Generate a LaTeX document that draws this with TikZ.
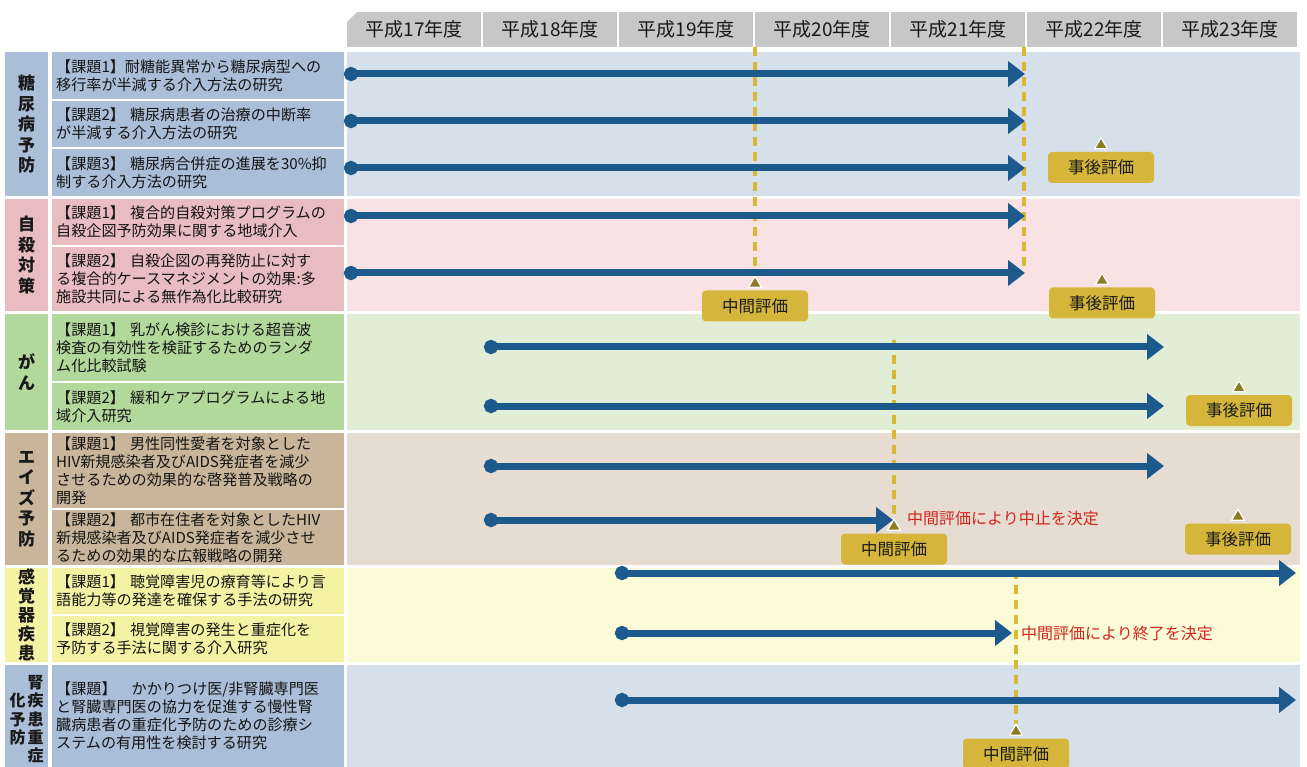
\documentclass[tikz,border=0pt]{standalone}
\usepackage{fontspec}
\setmainfont{Noto Sans CJK JP}
\usetikzlibrary{arrows.meta,calc}
\definecolor{hdrgray}{HTML}{C6C7C6}
\definecolor{blueL}{HTML}{AABED7}
\definecolor{blueT}{HTML}{D5E0EB}
\definecolor{pinkL}{HTML}{E8BCC0}
\definecolor{pinkT}{HTML}{F8E2E4}
\definecolor{greenL}{HTML}{B3D89B}
\definecolor{greenT}{HTML}{E1EED5}
\definecolor{tanL}{HTML}{C9B59B}
\definecolor{tanT}{HTML}{E6DCD2}
\definecolor{yelL}{HTML}{F6F2A4}
\definecolor{yelT}{HTML}{FCFBD8}
\definecolor{arrblue}{HTML}{1C5A8E}
\definecolor{dashyel}{HTML}{D8B834}
\definecolor{labgold}{HTML}{D5B63A}
\definecolor{trigold}{HTML}{8B7B22}
\definecolor{redtxt}{HTML}{D0261E}
\begin{document}
\begin{tikzpicture}[x=1pt,y=-1pt,
  hdrcell/.style={fill=hdrgray, minimum width=134pt, minimum height=35pt, inner sep=0pt, font=\fontsize{19}{22}\selectfont, text=black!90},
  catcell/.style={anchor=north west, minimum width=43pt, inner sep=0pt, align=center, font=\bfseries\fontsize{17}{20.5}\selectfont, text=black!90},
  taskcell/.style={anchor=north west, text width=284pt, inner xsep=4pt, inner ysep=0pt, align=left, font=\fontsize{15.1}{18}\selectfont, text=black!92},
  prog/.style={draw=arrblue, line width=7pt, {Circle[length=14pt]}-{Triangle[length=17pt,width=25pt]}},
  yldash/.style={draw=dashyel, line width=3.5pt, dash pattern=on 9pt off 6pt},
  evalbox/.style={fill=labgold, rounded corners=4pt, minimum width=106pt, minimum height=31pt, inner sep=0pt, font=\fontsize{16.5}{18}\selectfont, text=black!90},
  tri/.style={fill=trigold, draw=white, line width=1.2pt, line join=miter},
  redlabel/.style={text=redtxt, anchor=west, inner sep=0pt, font=\fontsize{16}{18}\selectfont},
]
\useasboundingbox (0,0) rectangle (1307,767);
\fill[white] (0,0) rectangle (1307,767);

% header
\node[hdrcell] (h17) at (414,29.5) {平成17年度};
\node[hdrcell] (h18) at (550,29.5) {平成18年度};
\node[hdrcell] (h19) at (686,29.5) {平成19年度};
\node[hdrcell] (h20) at (822,29.5) {平成20年度};
\node[hdrcell] (h21) at (958,29.5) {平成21年度};
\node[hdrcell] (h22) at (1094,29.5) {平成22年度};
\node[hdrcell] (h23) at (1230,29.5) {平成23年度};
\fill[white] (346,11) -- (358,11) -- (346,23) -- cycle;

% timeline backgrounds
\fill[blueT]  (347,52)  rectangle (1300,196);
\fill[pinkT]  (347,199) rectangle (1300,311);
\fill[greenT] (347,314) rectangle (1300,430);
\fill[tanT]   (347,433) rectangle (1300,565);
\fill[yelT]   (347,568) rectangle (1300,662);
\fill[blueT]  (347,665) rectangle (1300,767);

% categories
\node[catcell, fill=blueL, minimum height=144pt] (c1) at (5,52) {糖\\尿\\病\\予\\防};
\node[catcell, fill=pinkL, minimum height=112pt] (c2) at (5,199) {自\\殺\\対\\策};
\node[catcell, fill=greenL, minimum height=116pt] (c3) at (5,314) {が\\ん};
\node[catcell, fill=tanL, minimum height=132pt] (c4) at (5,433) {エ\\イ\\ズ\\予\\防};
\node[catcell, fill=yelL, minimum height=94pt, font=\bfseries\fontsize{17}{19}\selectfont] (c5) at (5,568) {感\\覚\\器\\疾\\患};
\node[catcell, fill=blueL, minimum height=102pt] (c6) at (5,665) {};
\node[inner sep=0pt, font=\bfseries\fontsize{16}{17.5}\selectfont, text=black!90] (c6t) at (26.5,721) {\def\arraystretch{0.88}\begin{tabular}{@{}c@{\hspace{2pt}}c@{}} & 腎\\ 化 & 疾\\ 予 & 患\\ 防 & 重\\ & 症\end{tabular}};

% tasks
\node[taskcell, fill=blueL, minimum height=47pt] (k11) at (52,52) {【課題1】耐糖能異常から糖尿病型への\\移行率が半減する介入方法の研究};
\node[taskcell, fill=blueL, minimum height=46pt] (k12) at (52,101) {【課題2】 糖尿病患者の治療の中断率\\が半減する介入方法の研究};
\node[taskcell, fill=blueL, minimum height=47pt] (k13) at (52,149) {【課題3】 糖尿病合併症の進展を30\%抑\\制する介入方法の研究};
\node[taskcell, fill=pinkL, minimum height=46pt] (k21) at (52,199) {【課題1】 複合的自殺対策プログラムの\\自殺企図予防効果に関する地域介入};
\node[taskcell, fill=pinkL, minimum height=64pt] (k22) at (52,247) {【課題2】 自殺企図の再発防止に対す\\る複合的ケースマネジメントの効果:多\\施設共同による無作為化比較研究};
\node[taskcell, fill=greenL, minimum height=67pt] (k31) at (52,314) {【課題1】 乳がん検診における超音波\\検査の有効性を検証するためのランダ\\ム化比較試験};
\node[taskcell, fill=greenL, minimum height=47pt] (k32) at (52,383) {【課題2】 緩和ケアプログラムによる地\\域介入研究};
\node[taskcell, fill=tanL, minimum height=75pt] (k41) at (52,433) {【課題1】 男性同性愛者を対象とした\\HIV新規感染者及びAIDS発症者を減少\\させるための効果的な啓発普及戦略の\\開発};
\node[taskcell, fill=tanL, minimum height=55pt] (k42) at (52,510) {【課題2】 都市在住者を対象としたHIV\\新規感染者及びAIDS発症者を減少させ\\るための効果的な広報戦略の開発};
\node[taskcell, fill=yelL, minimum height=46pt] (k51) at (52,568) {【課題1】 聴覚障害児の療育等により言\\語能力等の発達を確保する手法の研究};
\node[taskcell, fill=yelL, minimum height=46pt] (k52) at (52,616) {【課題2】 視覚障害の発生と重症化を\\予防する手法に関する介入研究};
\node[taskcell, fill=blueL, minimum height=102pt] (k61) at (52,665) {【課題】　かかりつけ医/非腎臓専門医\\と腎臓専門医の協力を促進する慢性腎\\臓病患者の重症化予防のための診療シ\\ステムの有用性を検討する研究};

% evaluation boxes
\node[evalbox] (m1) at (755,306) {中間評価};
\node[evalbox] (m2) at (894,549) {中間評価};
\node[evalbox] (m3) at (1016,754) {中間評価};
\node[evalbox] (p1) at (1101,167.5) {事後評価};
\node[evalbox] (p2) at (1102,303) {事後評価};
\node[evalbox] (p3) at (1239,410.5) {事後評価};
\node[evalbox] (p4) at (1238,539) {事後評価};

% triangle apex coordinates
\foreach \b in {m1,m2,m3,p1,p2,p3,p4}{
  \coordinate (\b base) at ($(\b.north)+(0,-3)$);
  \coordinate (\b apex) at ($(\b.north)+(0,-14)$);
}

% dashed guide lines
\coordinate (d1top) at (755,47);
\coordinate (d2top) at (1024,47);
\coordinate (d2bot) at (1024,272);
\coordinate (d3top) at (894,340);
\coordinate (d4top) at (1016,570);
\draw[yldash] (d1top) -- (m1apex);
\draw[yldash] (d2top) -- (d2bot);
\draw[yldash] (d3top) -- (m2apex);
\draw[yldash] (d4top) -- (m3apex);

% triangles
\foreach \b in {m1,m2,m3,p1,p2,p3,p4}{
  \filldraw[tri] ($(\b base)+(-6.5,0)$) -- (\b apex) -- ($(\b base)+(6.5,0)$) -- cycle;
}

% progress arrows
\coordinate (s11) at (344,74);   \coordinate (e11) at (1025,74);
\coordinate (s12) at (344,121);  \coordinate (e12) at (1025,121);
\coordinate (s13) at (344,168);  \coordinate (e13) at (1025,168);
\coordinate (s21) at (344,216);  \coordinate (e21) at (1025,216);
\coordinate (s22) at (344,273);  \coordinate (e22) at (1025,273);
\coordinate (s31) at (484,347);  \coordinate (e31) at (1164,347);
\coordinate (s32) at (484,406);  \coordinate (e32) at (1164,406);
\coordinate (s41) at (484,466);  \coordinate (e41) at (1164,466);
\coordinate (s42) at (484,520);  \coordinate (e42) at (893,520);
\coordinate (s51) at (615,573);  \coordinate (e51) at (1296,573);
\coordinate (s52) at (615,633);  \coordinate (e52) at (1012,633);
\coordinate (s61) at (615,700);  \coordinate (e61) at (1296,700);
\foreach \a in {11,12,13,21,22,31,32,41,42,51,52,61}{
  \draw[prog] (s\a) -- (e\a);
}

% red notes
\node[redlabel] (n1) at (907,518) {中間評価により中止を決定};
\node[redlabel] (n2) at (1021,633) {中間評価により終了を決定};
\end{tikzpicture}
\end{document}
